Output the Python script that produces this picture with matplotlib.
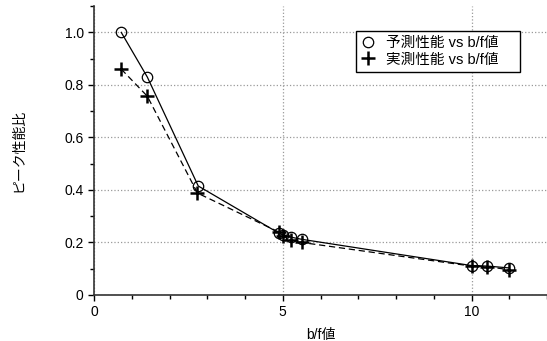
import numpy as np
import matplotlib.pyplot as plt
from matplotlib.ticker import MultipleLocator

plt.rcParams['font.family'] = ['Liberation Sans', 'Noto Sans CJK JP']

# 予測性能 (circles, solid line)
pred_x = [0.72, 1.41, 2.76, 4.89, 5.0, 5.22, 5.5, 10.0, 10.42, 11.0]
pred_y = [1.0, 0.83, 0.415, 0.236, 0.23, 0.22, 0.212, 0.112, 0.11, 0.103]
# 実測性能 (plus, dashed line)
meas_x = [0.72, 1.41, 2.74, 4.89, 5.0, 5.22, 5.5, 10.0, 10.42, 11.0]
meas_y = [0.86, 0.757, 0.388, 0.24, 0.225, 0.21, 0.2, 0.11, 0.108, 0.096]

fig = plt.figure(figsize=(5.47, 3.41), dpi=100)
ax = fig.add_axes([0.172, 0.135, 0.828, 0.847])

pad = '\u00a0' * 4
ax.plot(pred_x, pred_y, '-', color='black', lw=0.9, marker='o', ms=7.5,
        mfc='none', mec='black', mew=0.9, label='予測性能 vs b/f値' + pad)
ax.plot(meas_x, meas_y, '--', color='black', lw=0.9, marker='+', ms=9.5,
        mew=1.8, mec='black', label='実測性能 vs b/f値' + pad, dashes=(5, 3))

ax.set_xlim(0, 12)
ax.set_ylim(0, 1.1)
ax.xaxis.set_minor_locator(MultipleLocator(1))
ax.yaxis.set_minor_locator(MultipleLocator(0.1))
ax.set_yticks([0, 0.2, 0.4, 0.6, 0.8, 1.0])
ax.set_yticklabels(['0', '0.2', '0.4', '0.6', '0.8', '1.0'])
ax.set_xticks([0, 5, 10])
ax.set_xticklabels(['0', '5', '10'])
ax.tick_params(which='major', length=4, width=1, labelsize=10, colors='black')
ax.tick_params(which='minor', length=3, width=1)

ax.grid(True, which='major', linestyle=':', color='#999999', lw=0.9)
for s in ['top', 'right']:
    ax.spines[s].set_visible(False)
for s in ['left', 'bottom']:
    ax.spines[s].set_linewidth(1.2)
    ax.spines[s].set_color('#333333')

ax.set_xlabel('b/f値', fontsize=10, labelpad=6)
ax.set_ylabel('ピーク性能比', fontsize=10, labelpad=28)

leg = ax.legend(loc='upper left', bbox_to_anchor=(0.578, 0.913), fontsize=10.5,
                frameon=True, fancybox=False, framealpha=1, edgecolor='black',
                handlelength=1.0, handletextpad=0.7, borderpad=0.35,
                labelspacing=0.15, borderaxespad=0)
leg.get_frame().set_linewidth(1.0)
for h in leg.get_lines():
    h.set_linestyle('none')

fig.savefig('out.png', dpi=100)
